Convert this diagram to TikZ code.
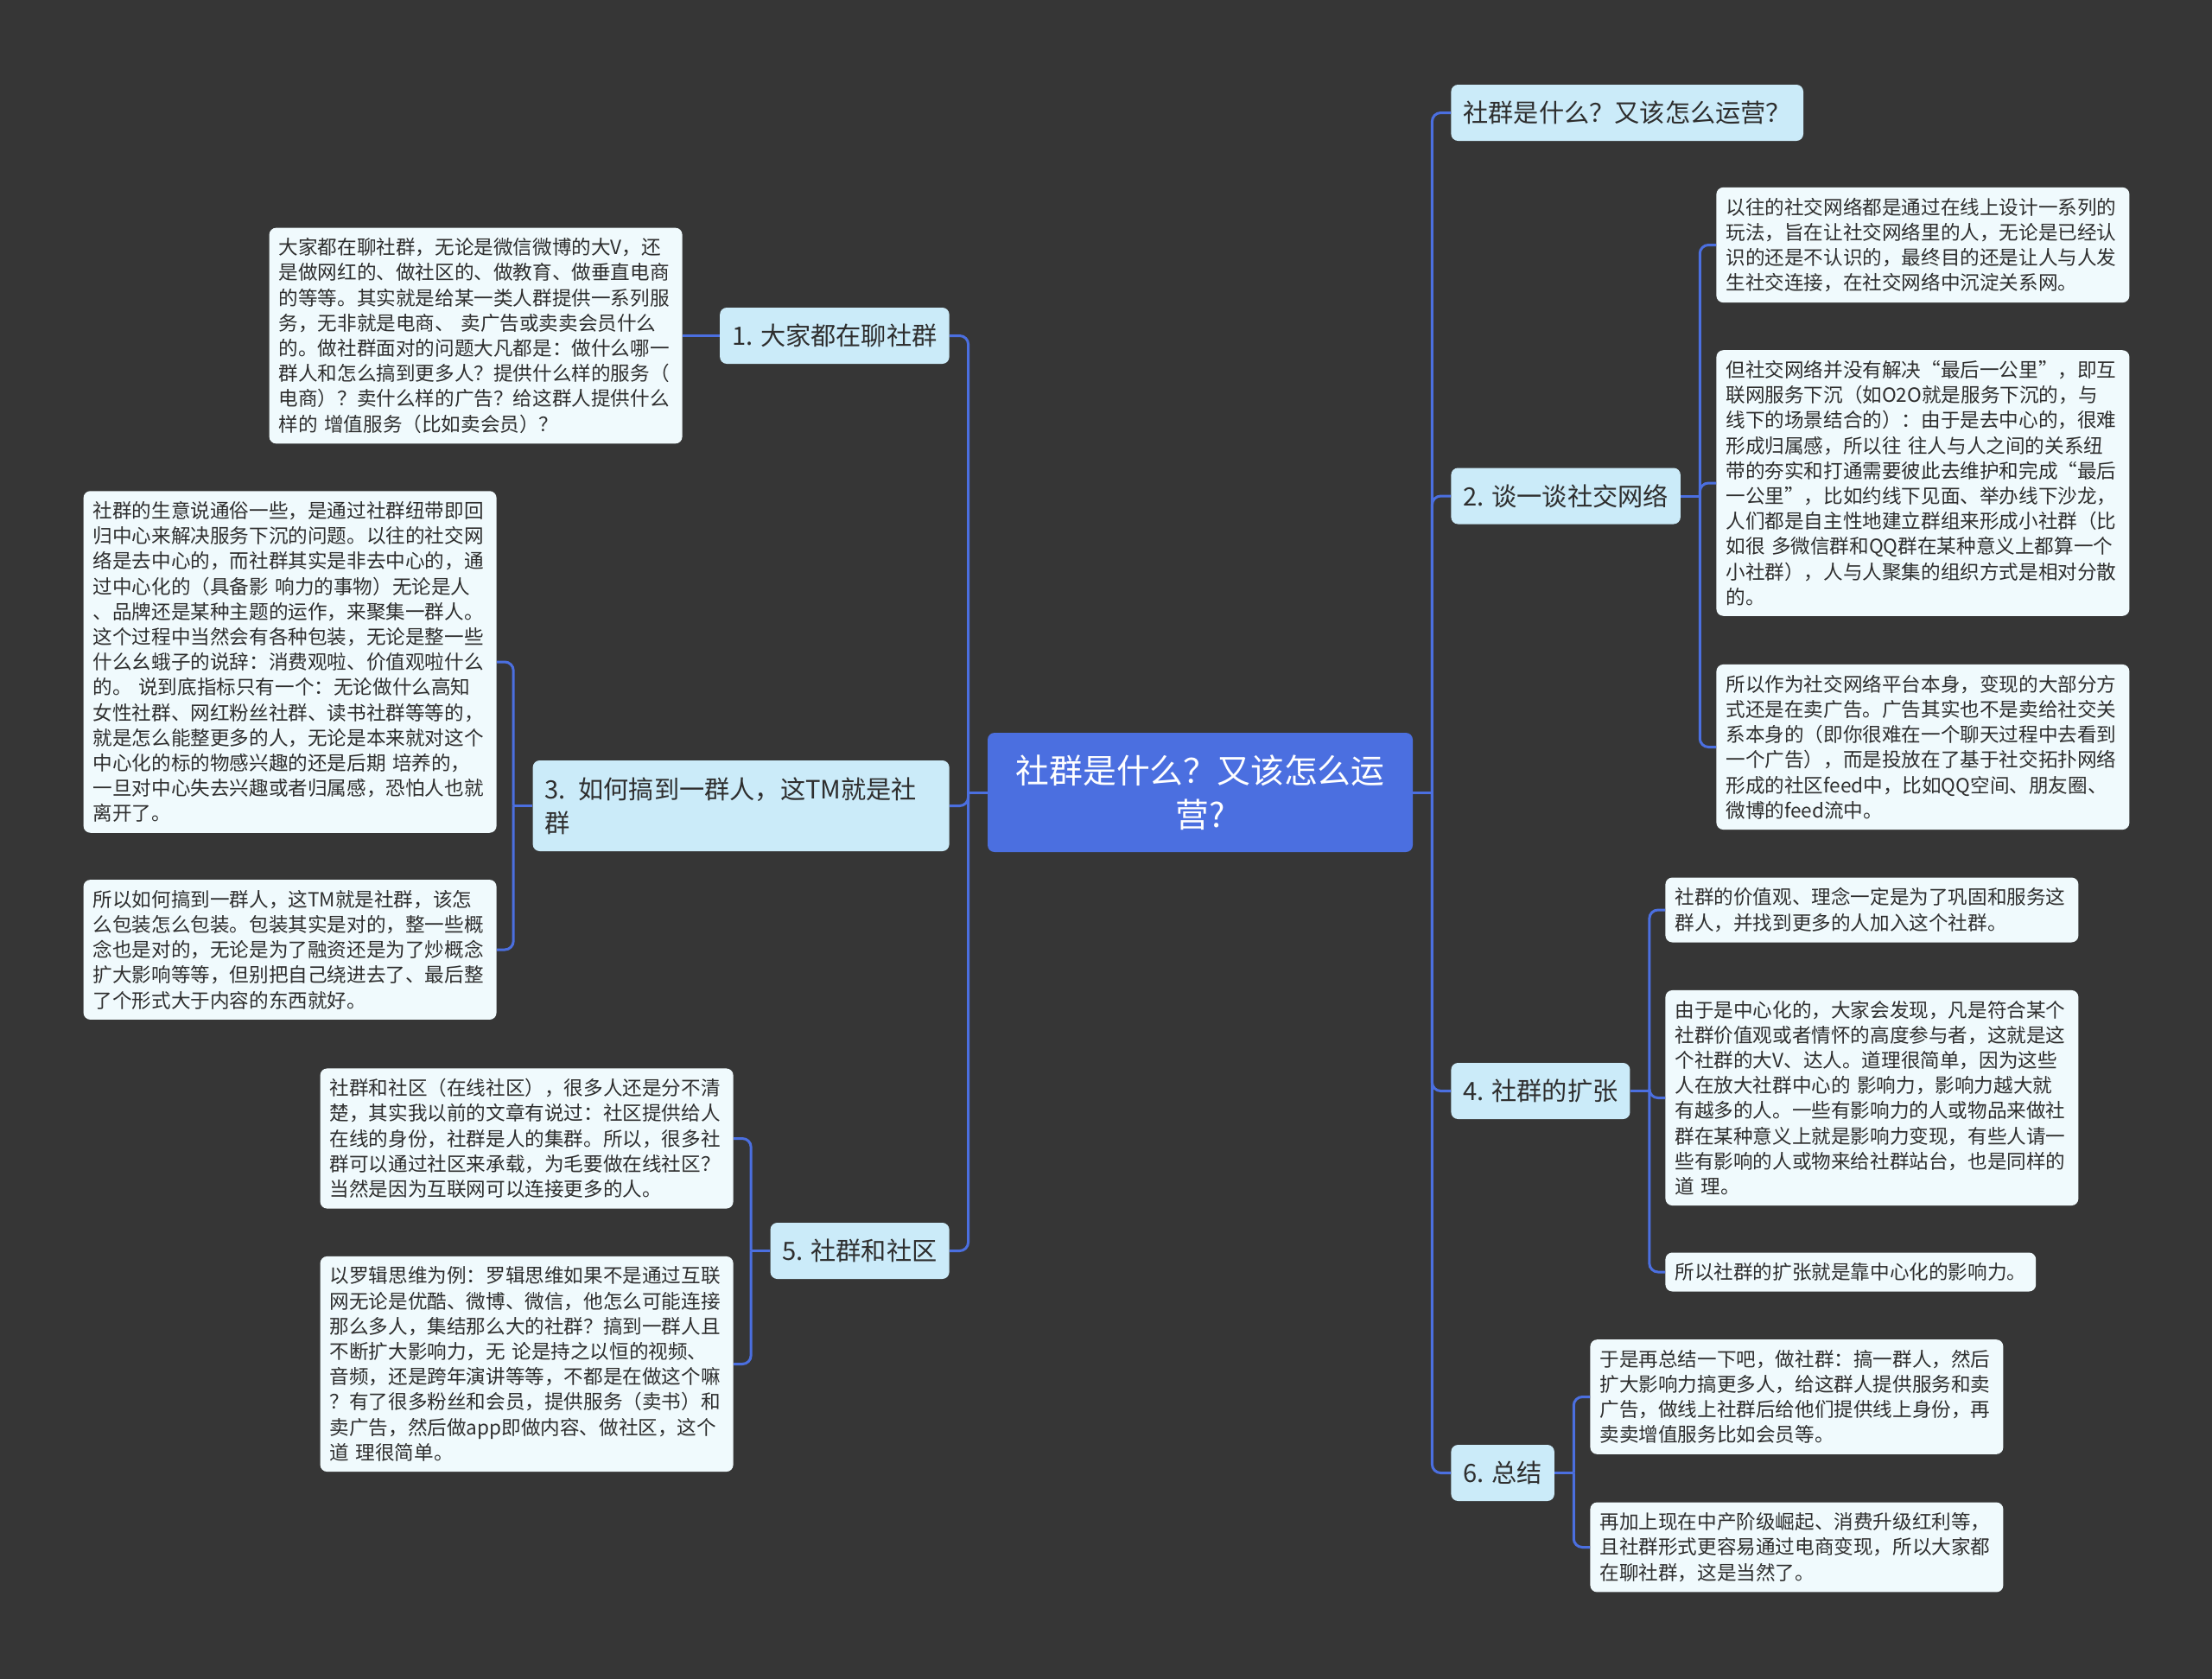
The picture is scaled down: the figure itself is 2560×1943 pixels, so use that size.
\documentclass[tikz,border=0pt]{standalone}
\usepackage{fontspec}
\setmainfont{Noto Sans CJK SC}
\definecolor{bgdark}{HTML}{363636}
\definecolor{hubblue}{HTML}{4B6FE0}
\definecolor{branchfill}{HTML}{CBEBF9}
\definecolor{leaffill}{HTML}{F0FAFD}
\definecolor{inkdark}{HTML}{2E2E2E}
\tikzset{
  rootbox/.style={fill=hubblue, rounded corners=4pt, text=white, align=center,
    font=\fontsize{19.4}{25.3}\selectfont, minimum width=246pt, minimum height=69pt, inner sep=0pt},
  branchbox/.style={fill=branchfill, rounded corners=4pt, text=inkdark,
    font=\fontsize{14.6}{19.6}\selectfont, inner xsep=7pt, inner ysep=0pt, minimum height=32.5pt},
  leafline/.style={fill=leaffill, rounded corners=4pt, text=inkdark,
    font=\fontsize{11.3}{14.6}\selectfont, inner xsep=5.5pt, inner ysep=6pt},
  leafbox/.style={leafline, align=left, text width=228pt},
  link/.style={draw=hubblue, line width=1.5pt, rounded corners=5pt},
}
\begin{document}
\begin{tikzpicture}[x=0.5pt, y=-0.5pt]
    \fill[bgdark] (0,0) rectangle (2560,1943);
    \useasboundingbox (0,0) rectangle (2560,1943);

    \node[rootbox] (root) at (1389,917) {社群是什么？又该怎么运\\营?};

    \node[branchbox, anchor=west] (b0) at (1679,130.5) {社群是什么？又该怎么运营？};
    \node[branchbox, anchor=east] (b1) at (1099,388.5) {1. 大家都在聊社群};
    \node[branchbox, anchor=west] (b2) at (1679,574) {2. 谈一谈社交网络};
    \node[branchbox, anchor=east, align=left, text width=227pt, minimum height=52.5pt] (b3) at (1099,932.5) {3. 如何搞到一群人，这TM就是社\\群};
    \node[branchbox, anchor=west] (b4) at (1679,1262.5) {4. 社群的扩张};
    \node[branchbox, anchor=east] (b5) at (1099,1447.5) {5. 社群和社区};
    \node[branchbox, anchor=west] (b6) at (1679,1704.5) {6. 总结};

    \node[leafbox, anchor=east] (l1) at (790,388.5) {大家都在聊社群，无论是微信微博的大V，还\\是做网红的、做社区的、做教育、做垂直电商\\的等等。其实就是给某一类人群提供一系列服\\务，无非就是电商、 卖广告或卖卖会员什么\\的。做社群面对的问题大凡都是：做什么哪一\\群人和怎么搞到更多人？提供什么样的服务（\\电商）？卖什么样的广告？给这群人提供什么\\样的 增值服务（比如卖会员）？};
    \node[leafbox, anchor=east] (l3a) at (575,766) {社群的生意说通俗一些，是通过社群纽带即回\\归中心来解决服务下沉的问题。以往的社交网\\络是去中心的，而社群其实是非去中心的，通\\过中心化的（具备影 响力的事物）无论是人\\、品牌还是某种主题的运作，来聚集一群人。\\这个过程中当然会有各种包装，无论是整一些\\什么幺蛾子的说辞：消费观啦、价值观啦什么\\的。 说到底指标只有一个：无论做什么高知\\女性社群、网红粉丝社群、读书社群等等的，\\就是怎么能整更多的人，无论是本来就对这个\\中心化的标的物感兴趣的还是后期 培养的，\\一旦对中心失去兴趣或者归属感，恐怕人也就\\离开了。};
    \node[leafbox, anchor=east] (l3b) at (575,1099) {所以如何搞到一群人，这TM就是社群，该怎\\么包装怎么包装。包装其实是对的，整一些概\\念也是对的，无论是为了融资还是为了炒概念\\扩大影响等等，但别把自己绕进去了、最后整\\了个形式大于内容的东西就好。};
    \node[leafbox, anchor=east] (l5a) at (849,1317.5) {社群和社区（在线社区），很多人还是分不清\\楚，其实我以前的文章有说过：社区提供给人\\在线的身份，社群是人的集群。所以，很多社\\群可以通过社区来承载，为毛要做在线社区？\\当然是因为互联网可以连接更多的人。};
    \node[leafbox, anchor=east] (l5b) at (849,1578.5) {以罗辑思维为例：罗辑思维如果不是通过互联\\网无论是优酷、微博、微信，他怎么可能连接\\那么多人，集结那么大的社群？搞到一群人且\\不断扩大影响力，无 论是持之以恒的视频、\\音频，还是跨年演讲等等，不都是在做这个嘛\\？有了很多粉丝和会员，提供服务（卖书）和\\卖广告，然后做app即做内容、做社区，这个\\道 理很简单。};

    \node[leafbox, anchor=west] (r2a) at (1986,283.5) {以往的社交网络都是通过在线上设计一系列的\\玩法，旨在让社交网络里的人，无论是已经认\\识的还是不认识的，最终目的还是让人与人发\\生社交连接，在社交网络中沉淀关系网。};
    \node[leafbox, anchor=west] (r2b) at (1986,559) {但社交网络并没有解决“最后一公里”，即互\\联网服务下沉（如O2O就是服务下沉的，与\\线下的场景结合的）：由于是去中心的，很难\\形成归属感，所以往 往人与人之间的关系纽\\带的夯实和打通需要彼此去维护和完成“最后\\一公里”，比如约线下见面、举办线下沙龙，\\人们都是自主性地建立群组来形成小社群（比\\如很 多微信群和QQ群在某种意义上都算一个\\小社群），人与人聚集的组织方式是相对分散\\的。};
    \node[leafbox, anchor=west] (r2c) at (1986,864.5) {所以作为社交网络平台本身，变现的大部分方\\式还是在卖广告。广告其实也不是卖给社交关\\系本身的（即你很难在一个聊天过程中去看到\\一个广告），而是投放在了基于社交拓扑网络\\形成的社区feed中，比如QQ空间、朋友圈、\\微博的feed流中。};
    \node[leafbox, anchor=west] (r4a) at (1927,1053) {社群的价值观、理念一定是为了巩固和服务这\\群人，并找到更多的人加入这个社群。};
    \node[leafbox, anchor=west] (r4b) at (1927,1270.5) {由于是中心化的，大家会发现，凡是符合某个\\社群价值观或者情怀的高度参与者，这就是这\\个社群的大V、达人。道理很简单，因为这些\\人在放大社群中心的 影响力，影响力越大就\\有越多的人。一些有影响力的人或物品来做社\\群在某种意义上就是影响力变现，有些人请一\\些有影响的人或物来给社群站台，也是同样的\\道 理。};
    \node[leafline, anchor=west] (r4c) at (1927,1472) {所以社群的扩张就是靠中心化的影响力。};
    \node[leafbox, anchor=west] (r6a) at (1840,1616.5) {于是再总结一下吧，做社群：搞一群人，然后\\扩大影响力搞更多人，给这群人提供服务和卖\\广告，做线上社群后给他们提供线上身份，再\\卖卖增值服务比如会员等。};
    \node[leafbox, anchor=west] (r6b) at (1840,1790.5) {再加上现在中产阶级崛起、消费升级红利等，\\且社群形式更容易通过电商变现，所以大家都\\在聊社群，这是当然了。};

    \coordinate (rhub) at ([xshift=11pt]root.east);
    \coordinate (lhub) at ([xshift=-11pt]root.west);
    \coordinate (h2) at ([xshift=11pt]b2.east);
    \coordinate (h3) at ([xshift=-11pt]b3.west);
    \coordinate (h4) at ([xshift=11pt]b4.east);
    \coordinate (h5) at ([xshift=-11pt]b5.west);
    \coordinate (h6) at ([xshift=11pt]b6.east);

    \draw[link] (root.east) -- (rhub);
    \draw[link] (root.west) -- (lhub);
    \draw[link] (rhub) |- (b0.west);
    \draw[link] (rhub) |- (b2.west);
    \draw[link] (rhub) |- (b4.west);
    \draw[link] (rhub) |- (b6.west);
    \draw[link] (lhub) |- (b1.east);
    \draw[link] (lhub) |- (b3.east);
    \draw[link] (lhub) |- (b5.east);

    \draw[link] (b1.west) -- (l1.east);
    \draw[link] (b2.east) -- (h2);
    \draw[link] (h2) |- (r2a.west);
    \draw[link] (h2) |- (r2b.west);
    \draw[link] (h2) |- (r2c.west);
    \draw[link] (b3.west) -- (h3);
    \draw[link] (h3) |- (l3a.east);
    \draw[link] (h3) |- (l3b.east);
    \draw[link] (b4.east) -- (h4);
    \draw[link] (h4) |- (r4a.west);
    \draw[link] (h4) |- (r4b.west);
    \draw[link] (h4) |- (r4c.west);
    \draw[link] (b5.west) -- (h5);
    \draw[link] (h5) |- (l5a.east);
    \draw[link] (h5) |- (l5b.east);
    \draw[link] (b6.east) -- (h6);
    \draw[link] (h6) |- (r6a.west);
    \draw[link] (h6) |- (r6b.west);
\end{tikzpicture}
\end{document}
